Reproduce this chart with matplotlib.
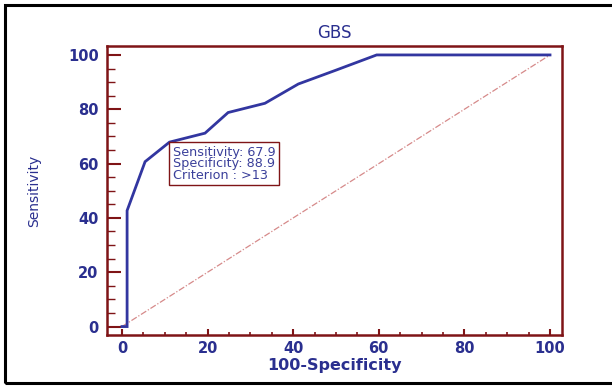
import matplotlib
matplotlib.use('Agg')
import matplotlib.pyplot as plt
from matplotlib.ticker import MultipleLocator
from matplotlib.patches import Rectangle

# ROC curve points
fpr = [0, 1.2, 1.2, 5.4, 11.1, 19.4, 24.8, 33.4, 41.2, 50, 59.5, 100]
tpr = [0, 0, 42.7, 60.7, 67.9, 71.2, 78.8, 82.2, 89.3, 94.4, 100, 100]
diag = [0, 100]
box_lines = ['Sensitivity: 67.9', 'Specificity: 88.9', 'Criterion : >13']
x_ticks = [0, 20, 40, 60, 80, 100]
y_ticks = [0, 20, 40, 60, 80, 100]

navy = '#2a2f8f'
maroon = '#7f1416'
plt.rcParams['font.family'] = ['DejaVu Sans']

fig = plt.figure(figsize=(6.12, 3.87), dpi=100)
ax = fig.add_axes([0.1748, 0.1344, 0.7435, 0.7468])

ax.plot(diag, diag, color='#d68a8a', lw=0.9, linestyle=(0, (5, 1.5, 1, 1.5)))
ax.plot(fpr, tpr, color='#3236a0', lw=2.0, solid_joinstyle='miter')

ax.set_xlim(-3.5, 102.8)
ax.set_ylim(-3.1, 103.3)
ax.set_xticks(x_ticks)
ax.set_yticks(y_ticks)
ax.xaxis.set_minor_locator(MultipleLocator(5))
ax.yaxis.set_minor_locator(MultipleLocator(5))
ax.tick_params(axis='y', which='major', direction='in', length=10, width=1.5, color=maroon,
               labelcolor=navy, labelsize=10.5, pad=6)
ax.tick_params(axis='y', which='minor', direction='in', length=6, width=1.0, color=maroon)
ax.tick_params(axis='x', which='major', direction='in', length=4.5, width=1.5, color=maroon,
               labelcolor=navy, labelsize=10.5, pad=4)
ax.tick_params(axis='x', which='minor', direction='in', length=2.5, width=1.2, color=maroon)
for lab in ax.get_xticklabels() + ax.get_yticklabels():
    lab.set_fontweight('bold')
for s in ax.spines.values():
    s.set_color(maroon)
    s.set_linewidth(1.8)

ax.set_title('GBS', color=navy, fontsize=12, pad=6)
ax.set_xlabel('100-Specificity', color=navy, fontsize=11.5, fontweight='bold', labelpad=2)
ax.set_ylabel('Sensitivity', color=navy, fontsize=10, labelpad=19)

ax.text(11.9, 66.6, '\n'.join(box_lines), color='#3a3f9a', fontsize=9.2, va='top', ha='left',
        linespacing=0.85,
        bbox=dict(boxstyle='square,pad=0.3', facecolor='white', edgecolor=maroon, linewidth=1.0))

# outer frame around the figure
fig.patches.append(Rectangle((5 / 612, 4 / 387), 1.2, 1 - 9 / 387, transform=fig.transFigure,
                             fill=False, edgecolor='black', linewidth=2.2))

fig.savefig('out.png', dpi=100)
